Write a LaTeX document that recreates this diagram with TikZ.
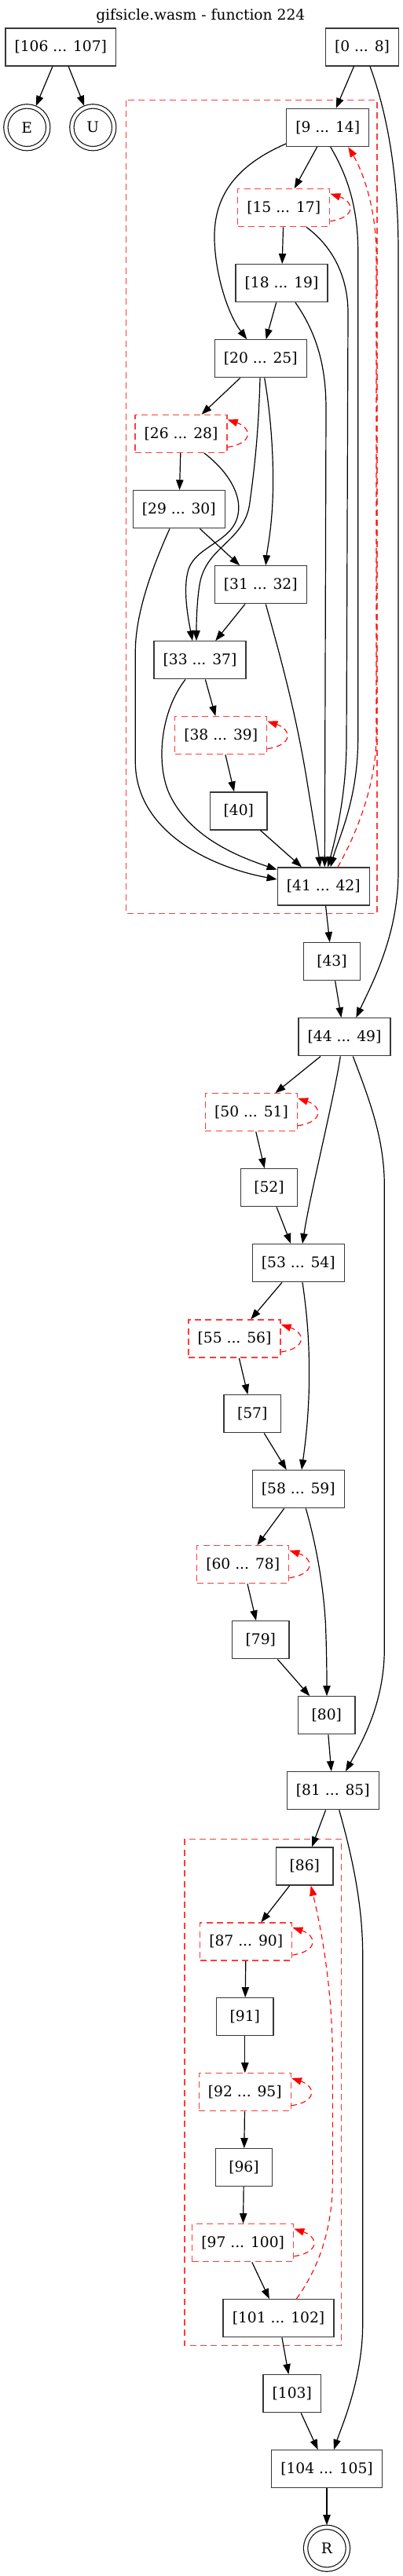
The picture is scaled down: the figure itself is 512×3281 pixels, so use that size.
\documentclass[tikz,border=0pt]{standalone}
\usepackage{fontspec}
\setmainfont{DejaVu Serif}
\usetikzlibrary{arrows.meta}
\definecolor{lred}{RGB}{255,60,60}
\begin{document}
\begin{tikzpicture}[x=1pt,y=-1pt,
  font=\fontsize{18.67}{22}\selectfont,
  blk/.style={rectangle, draw=black!78, line width=1.3pt, minimum height=48pt,
    minimum width=72.3pt, inner xsep=11.65pt, inner ysep=0pt},
  lp/.style={blk, draw=lred, dash pattern=on 8pt off 5.3pt},
  dcirc/.style={circle, draw=black, line width=1.1pt, double, double distance=4.2pt,
    minimum size=53.8pt, inner sep=0pt, outer sep=2.7pt},
  clus/.style={draw=lred, line width=1.3pt, dash pattern=on 8pt off 5.3pt},
  edge/.style={-{Triangle[length=13pt,width=9.3pt]}, line width=1.2pt, black},
  back/.style={-{Triangle[length=13pt,width=9.3pt]}, line width=1.1pt, red,
    dash pattern=on 7pt off 5pt}]
\useasboundingbox (0,0) rectangle (512,3281);
\draw[clus] (160.3,127.7) rectangle (480,1163.3);
\draw[clus] (235,2342.3) rectangle (434.7,2987.3);

\node[anchor=base] (title) at (255.3,26) {gifsicle.wasm - function 224};

\node[blk] (n106) at (77.3,60) {[106 ... 107]};
\node[blk] (n0) at (461,60) {[0 ... 8]};
\node[dcirc] (E) at (34.3,162.3) {E};
\node[dcirc] (U) at (118.3,162.3) {U};
\node[blk] (n9) at (417.2,162.5) {[9 ... 14]};
\node[lp] (n15) at (361.2,264.7) {[15 ... 17]};
\node[blk] (n18) at (358.5,360.7) {[18 ... 19]};
\node[blk] (n20) at (331.8,456.8) {[20 ... 25]};
\node[lp] (n26) at (230.5,552.5) {[26 ... 28]};
\node[blk] (n29) at (227.8,648.8) {[29 ... 30]};
\node[blk] (n31) at (331.8,744.8) {[31 ... 32]};
\node[blk] (n33) at (254.5,840.8) {[33 ... 37]};
\node[lp] (n38) at (281.2,936.7) {[38 ... 39]};
\node[blk] (n40) at (303.8,1033) {[40]};
\node[blk] (n41) at (411.8,1129) {[41 ... 42]};
\node[blk] (n43) at (422.5,1224.7) {[43]};
\node[blk] (n44) at (438.5,1320.8) {[44 ... 49]};
\node[lp] (n50) at (320,1416.8) {[50 ... 51]};
\node[blk] (n52) at (342.5,1512.7) {[52]};
\node[blk] (n53) at (379.8,1608.7) {[53 ... 54]};
\node[lp] (n55) at (298.5,1705) {[55 ... 56]};
\node[blk] (n57) at (321.2,1800.8) {[57]};
\node[blk] (n58) at (379.8,1896.7) {[58 ... 59]};
\node[lp] (n60) at (309.2,1992.7) {[60 ... 78]};
\node[blk] (n79) at (331.8,2088.8) {[79]};
\node[blk] (n80) at (415.8,2184.8) {[80]};
\node[blk] (n81) at (423.8,2280.7) {[81 ... 85]};
\node[blk] (n86) at (387.8,2377) {[86]};
\node[lp] (n87) at (313.2,2473) {[87 ... 90]};
\node[blk] (n91) at (311.8,2568.7) {[91]};
\node[lp] (n92) at (311.8,2664.8) {[92 ... 95]};
\node[blk] (n96) at (310.5,2760.8) {[96]};
\node[lp] (n97) at (309.2,2856.7) {[97 ... 100]};
\node[blk] (n101) at (354.5,2952.7) {[101 ... 102]};
\node[blk] (n103) at (371.8,3048.7) {[103]};
\node[blk] (n104) at (416,3144.7) {[104 ... 105]};
\node[dcirc] (R) at (416,3245.7) {R};

\draw[edge] (n106) -- (E);
\draw[edge] (n106) -- (U);
\draw[edge] (n0) -- (n9);
\draw[edge] ([xshift=10pt]n0.south) .. controls (495,150) and (507,230) .. (507,320) -- (507,1110) .. controls (507,1190) and (475,1250) .. ([xshift=14.8pt]n44.north);
\draw[edge] (n9) -- (n15);
\draw[edge] ([yshift=4pt]n9.south west) .. controls (290,215) and (272,260) .. (273,305) .. controls (274,350) and (290,400) .. ([xshift=-17.5pt]n20.north);
\draw[edge] ([xshift=3.5pt]n9.south) .. controls (440,220) and (455.7,260) .. (455.7,320) -- (455.7,940) .. controls (455.7,1020) and (430,1070) .. ([xshift=8.9pt]n41.north);
\draw[edge] (n15) -- (n18);
\draw[edge] ([xshift=28.8pt]n15.south) .. controls (425,315) and (443.5,355) .. (443,400) -- (441,950) .. controls (440,1020) and (425,1075) .. ([xshift=5.5pt]n41.north);
\draw[edge] (n18) -- (n20);
\draw[edge] ([xshift=17.5pt]n18.south) .. controls (400,420) and (415,460) .. (415,520) -- ([xshift=1.5pt]n41.north);
\draw[edge] (n20) -- (n26);
\draw[edge] ([xshift=4.9pt]n20.south) .. controls (345,530) and (348,580) .. (347.5,620) .. controls (347,670) and (340,700) .. ([xshift=6.5pt]n31.north);
\draw[edge] ([xshift=-0.8pt]n20.south) .. controls (329,560) and (322,610) .. (318,640) .. controls (312,690) and (262,695) .. (254,745) .. controls (250,770) and (250,800) .. ([xshift=-4.5pt]n33.north);
\draw[edge] (n26) -- (n29);
\draw[edge] ([xshift=29.5pt]n26.south) .. controls (290,600) and (308,630) .. (303,655) .. controls (297,690) and (250,695) .. (240,725) .. controls (232,750) and (240,790) .. ([xshift=-9.5pt]n33.north);
\draw[edge] (n29) -- (n31);
\draw[edge] ([xshift=-11.8pt]n29.south) .. controls (195,720) and (172.3,780) .. (172.3,830) -- (172.3,970) .. controls (172.3,1060) and (270,1105) .. ([yshift=9pt]n41.west);
\draw[edge] (n31) -- (n33);
\draw[edge] ([xshift=6.5pt]n31.south) .. controls (355,830) and (375,900) .. (390,990) .. controls (398,1040) and (405,1080) .. ([xshift=-4.5pt]n41.north);
\draw[edge] (n33) -- (n38);
\draw[edge] ([xshift=-18.5pt]n33.south) .. controls (205,905) and (198,970) .. (215,1010) .. controls (240,1065) and (300,1090) .. ([yshift=-3.3pt]n41.north west);
\draw[edge] (n38) -- (n40);
\draw[edge] (n40) -- (n41);
\draw[back] ([xshift=18.2pt]n41.north) .. controls (455,1060) and (478,1000) .. (479,940) -- (479,320) .. controls (478,260) and (460,215) .. ([xshift=26.1pt]n9.south);
\draw[edge] (n41) -- (n43);
\draw[edge] (n43) -- (n44);
\draw[edge] (n44) -- (n50);
\draw[edge] ([xshift=-5.2pt]n44.south) .. controls (425,1400) and (395,1520) .. ([xshift=5.2pt]n53.north);
\draw[edge] ([xshift=10.8pt]n44.south) .. controls (470,1400) and (489.3,1450) .. (489.3,1510) -- (489.3,2100) .. controls (489.3,2170) and (460,2220) .. ([xshift=16.2pt]n81.north);
\draw[edge] (n50) -- (n52);
\draw[edge] (n52) -- (n53);
\draw[edge] (n53) -- (n55);
\draw[edge] ([xshift=5.2pt]n53.south) .. controls (392,1680) and (394,1720) .. (393.5,1760) .. controls (393,1810) and (387,1850) .. ([xshift=4.2pt]n58.north);
\draw[edge] (n55) -- (n57);
\draw[edge] (n57) -- (n58);
\draw[edge] (n58) -- (n60);
\draw[edge] ([xshift=9.5pt]n58.south) .. controls (402,1965) and (412,2020) .. (414.5,2070) .. controls (416,2110) and (416,2140) .. ([xshift=0.2pt]n80.north);
\draw[edge] (n60) -- (n79);
\draw[edge] (n79) -- (n80);
\draw[edge] (n80) -- (n81);
\draw[edge] (n81) -- (n86);
\draw[edge] ([xshift=7.9pt]n81.south) .. controls (450,2370) and (461.7,2430) .. (461.7,2490) -- (461.7,2960) .. controls (461.7,3030) and (435,3090) .. ([xshift=9pt]n104.north);
\draw[edge] (n86) -- (n87);
\draw[edge] (n87) -- (n91);
\draw[edge] (n91) -- (n92);
\draw[edge] (n92) -- (n96);
\draw[edge] (n96) -- (n97);
\draw[edge] (n97) -- (n101);
\draw[back] ([xshift=22.8pt]n101.north) .. controls (405,2890) and (423,2840) .. (423.3,2780) -- (423.3,2620) .. controls (423,2520) and (405,2440) .. ([xshift=7.9pt]n86.south);
\draw[edge] (n101) -- (n103);
\draw[edge] (n103) -- (n104);
\draw[edge] (n104) -- (R);

\foreach \n in {n15,n26,n38,n50,n55,n60,n87,n92,n97}
  \draw[back] ([yshift=-17pt]\n.east) .. controls +(34,-5) and +(30,10) .. ([yshift=18pt]\n.east);
\end{tikzpicture}
\end{document}
